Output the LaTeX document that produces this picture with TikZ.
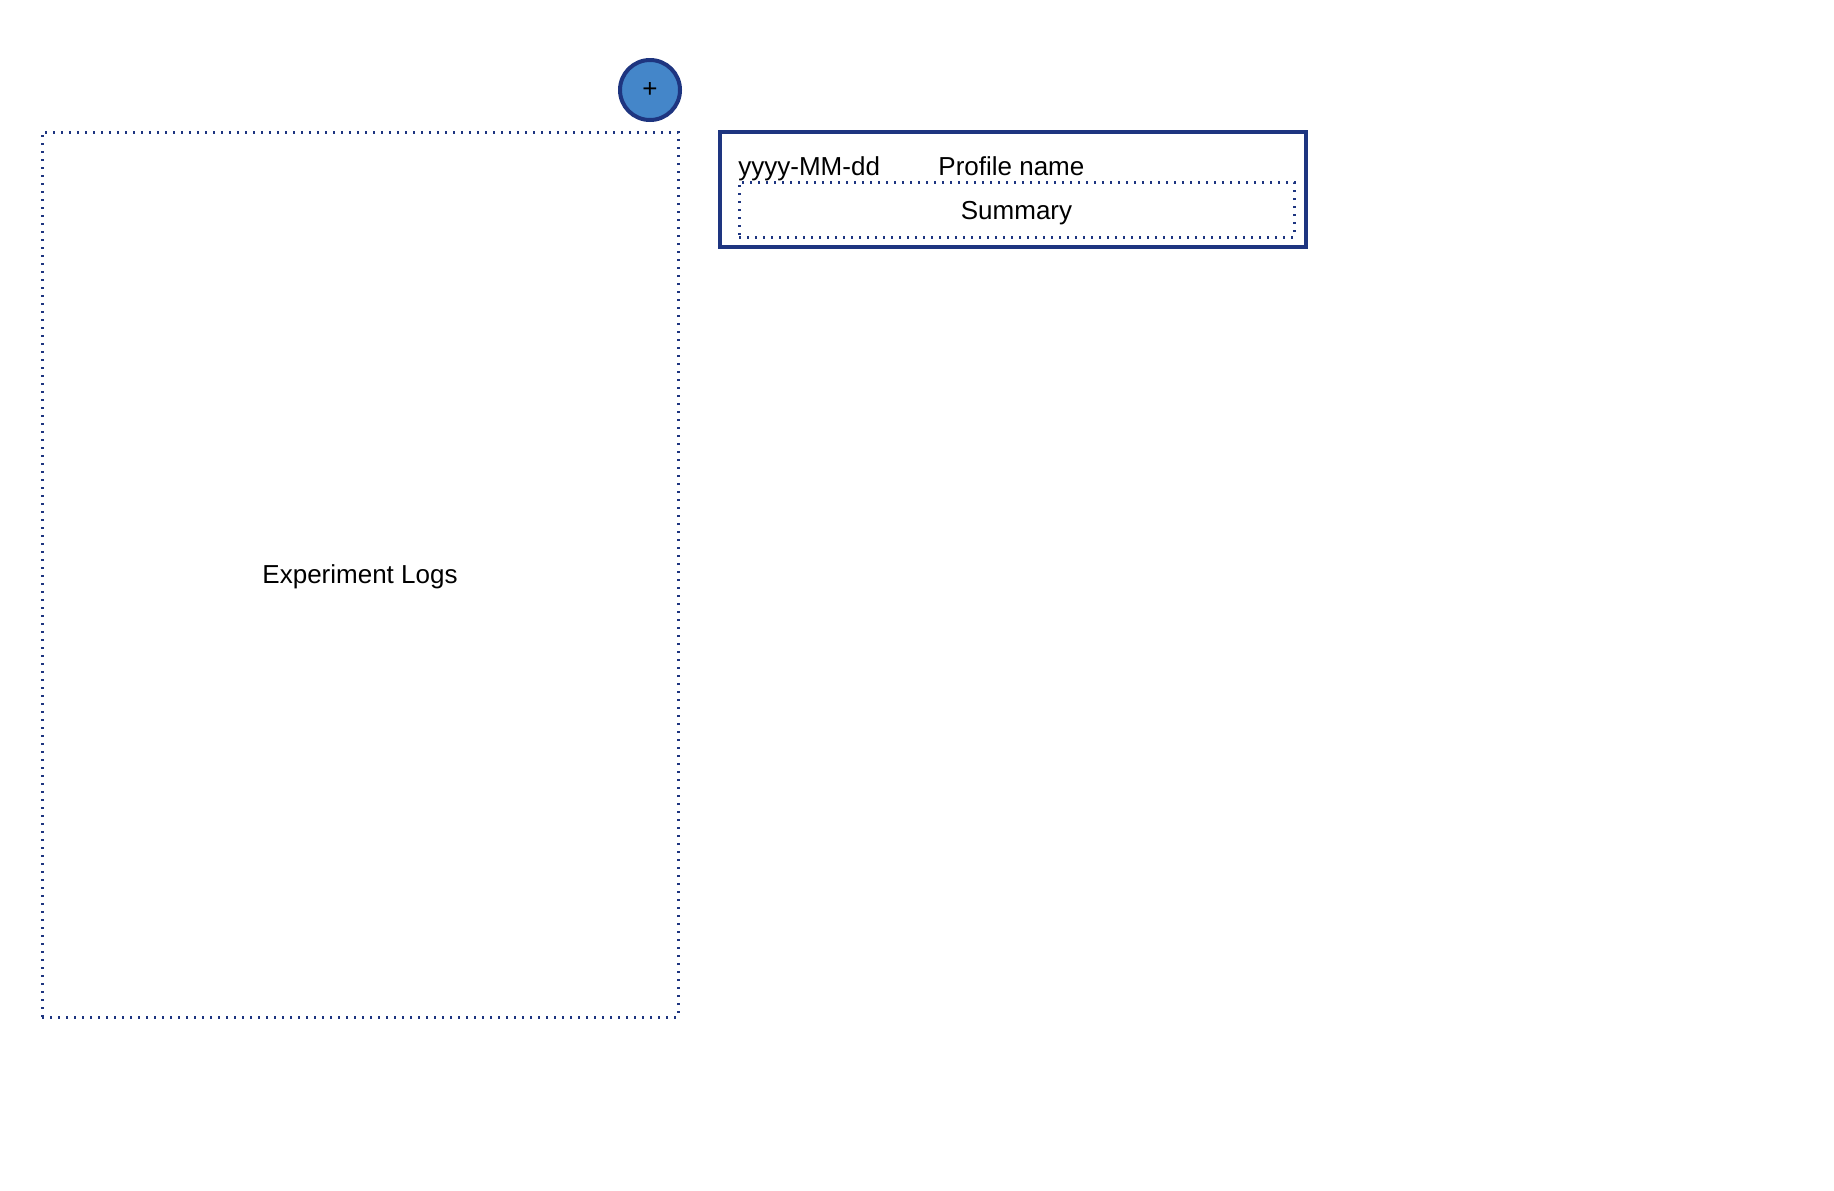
\documentclass[tikz,border=0pt]{standalone}
\usepackage{fontspec}
\setmainfont{Liberation Sans}
\definecolor{navy}{HTML}{1E3580}
\definecolor{btnblue}{HTML}{4486C9}
\tikzset{
  dotbox/.style={draw=navy, line width=1.5pt, dash pattern=on 1pt off 3pt, rectangle, inner sep=0pt},
  solidbox/.style={draw=navy, line width=2pt, rectangle, inner sep=0pt},
  roundbtn/.style={draw=navy, fill=btnblue, line width=2pt, circle, inner sep=0pt, minimum size=30pt},
  lbl/.style={inner sep=0pt, font=\fontsize{13}{15.6}\selectfont}
}
\begin{document}
\begin{tikzpicture}[x=0.5pt,y=-0.5pt]
\useasboundingbox (0,0) rectangle (1834,1190);
\node[dotbox, minimum width=318pt, minimum height=442.5pt] (logs) at (360,574.5) {};
\node[lbl] (logstext) at ([yshift=-1.2pt]logs.center) {Experiment Logs};
\node[roundbtn, lbl] (add) at (650,90) {+};
\node[solidbox, minimum width=293pt, minimum height=57.5pt] (card) at (1013,189.5) {};
\node[dotbox, minimum width=277.5pt, minimum height=27.5pt] (summary) at (1016.5,209.5) {};
\node[lbl] (summarytext) at ([yshift=-1.6pt]summary.center) {Summary};
\node[lbl, anchor=base west] (date) at (738,175) {yyyy-MM-dd};
\node[lbl, anchor=base west] (profile) at (938,175) {Profile name};
\end{tikzpicture}
\end{document}
